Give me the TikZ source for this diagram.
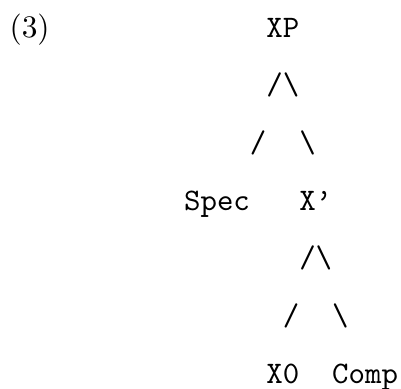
\documentclass[tikz,border=0pt]{standalone}
\begin{document}
\begin{tikzpicture}[x=0.31915pt,y=-0.31915pt,
  tt/.style={font=\ttfamily, inner sep=0pt, anchor=base west},
  rm/.style={font=\rmfamily, inner sep=0pt, anchor=base west}]
\useasboundingbox (0,0) rectangle (401,388);
\node[rm] (num) at (9,37) {(3)};
\node[tt] (xp) at (265.75,37) {XP};
\node[tt] (b1) at (265.75,94.7) {/\textbackslash};
\node[tt] (b2) at (249.3,152.3) {/\hspace{10.5pt}\textbackslash};
\node[tt] (spec) at (183.5,210) {Spec};
\node[tt] (xbar) at (298.65,210) {X\textquoteright};
\node[tt] (b3) at (298.65,267.7) {/\textbackslash};
\node[tt] (b4) at (282.2,325.3) {/\hspace{10.5pt}\textbackslash};
\node[tt] (x0) at (265.75,383) {X0};
\node[tt] (comp) at (331.55,383) {Comp};
\end{tikzpicture}
\end{document}
